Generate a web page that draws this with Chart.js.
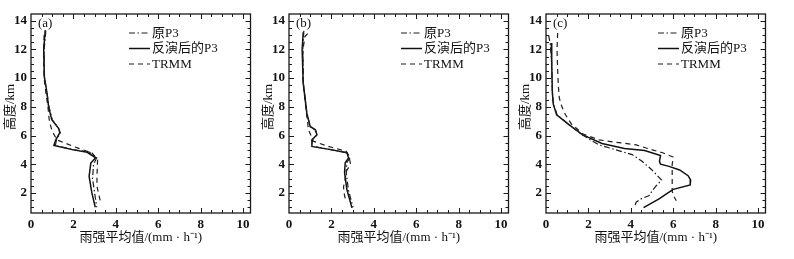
<!DOCTYPE html>
<html>
<head>
<meta charset="utf-8">
<script src="https://cdn.jsdelivr.net/npm/chart.js@4/dist/chart.umd.min.js"></script>
<style>
    body { margin: 0; background: #fff; width: 794px; height: 259px; position: relative; overflow: hidden; }
    .panel { position: absolute; top: 0; width: 261px; height: 259px; }
</style>
</head>
<body>
<div class="panel" style="left:0px"><canvas id="chart-a"></canvas></div>
<div class="panel" style="left:258px"><canvas id="chart-b"></canvas></div>
<div class="panel" style="left:515px"><canvas id="chart-c"></canvas></div>
<script>
const seriesNames = ["原P3", "反演后的P3", "TRMM"];

// (a)
const origA_height = [13.3, 12, 10, 9, 8, 7.1, 6.5, 6.2, 5.7, 5.3, 5.02, 4.85, 4.45, 4.0, 3.0, 2.0, 1.0];
const origA_rate   = [0.7, 0.62, 0.63, 0.75, 0.85, 1.0, 1.3, 1.38, 1.2, 1.15, 2.0, 2.75, 3.1, 2.95, 2.9, 3.0, 3.1];
const retrA_height = [13.35, 12, 10.1, 9, 8, 7.1, 6.5, 6.2, 5.7, 5.3, 5.0, 4.83, 4.45, 4.08, 3.15, 2.0, 1.0];
const retrA_rate   = [0.67, 0.6, 0.63, 0.75, 0.83, 0.98, 1.3, 1.36, 1.17, 1.08, 2.0, 2.65, 3.05, 2.82, 2.74, 2.87, 3.03];
const trmmA_height = [13.0, 12, 10, 9, 8, 7.2, 6.8, 6.3, 5.7, 5.24, 4.78, 4.31, 3.15, 2.46, 1.41];
const trmmA_rate   = [0.62, 0.6, 0.62, 0.7, 0.8, 0.85, 0.9, 1.0, 1.22, 2.0, 2.88, 3.14, 3.11, 3.11, 3.27];

// (b)
const origB_height = [13.3, 12, 9.6, 7.5, 6.6, 6.4, 6.05, 5.7, 5.25, 5.0, 4.78, 4.4, 4.1, 3.4, 2.2, 1.0];
const origB_rate   = [0.7, 0.65, 0.68, 0.85, 1.0, 1.25, 1.32, 1.1, 1.1, 2.05, 2.78, 2.86, 2.72, 2.7, 2.8, 3.02];
const retrB_height = [13.2, 12, 9.65, 7.56, 6.63, 6.4, 6.05, 5.7, 5.24, 5.0, 4.8, 4.43, 4.1, 3.4, 2.23, 0.96];
const retrB_rate   = [0.67, 0.62, 0.67, 0.84, 1.0, 1.24, 1.32, 1.08, 1.08, 2.02, 2.73, 2.81, 2.65, 2.62, 2.73, 2.97];
const trmmB_height = [13.1, 12.9, 12, 10, 8.5, 7.2, 6.4, 5.6, 5.24, 4.9, 4.5, 4.0, 3.5, 3.0, 2.4, 1.8, 1.5];
const trmmB_rate   = [0.88, 0.75, 0.66, 0.65, 0.75, 0.85, 0.92, 1.15, 1.86, 2.7, 2.84, 2.9, 2.7, 2.65, 2.57, 2.62, 2.68];

// (c)
const origC_height = [13.0, 12.4, 11, 9, 8.2, 7.45, 6.76, 6.06, 5.6, 5.35, 5.0, 4.67, 4.2, 3.6, 2.9, 2.5, 2.23, 1.8, 1.6, 1.35, 1.0];
const origC_rate   = [0.12, 0.2, 0.27, 0.3, 0.36, 0.52, 1.08, 1.7, 2.2, 2.5, 3.3, 4.06, 4.53, 5.0, 5.45, 5.2, 5.05, 4.85, 4.5, 4.25, 4.17];
const retrC_height = [12.45, 11, 9, 8.2, 7.45, 6.76, 6.06, 5.45, 5.1, 4.95, 4.6, 4.2, 4.0, 3.85, 3.6, 3.2, 2.9, 2.55, 2.25, 2.0, 1.6, 0.97];
const retrC_rate   = [0.25, 0.27, 0.3, 0.34, 0.5, 1.08, 1.71, 2.64, 3.7, 4.65, 5.4, 5.35, 5.4, 5.8, 6.3, 6.7, 6.82, 6.8, 6.0, 5.75, 5.35, 4.6];
const trmmC_height = [13.15, 12, 11, 9.5, 8.6, 8.0, 7.45, 6.8, 6.1, 5.7, 5.55, 5.35, 5.05, 4.8, 4.5, 4.0, 3.0, 2.1, 1.7, 1.45];
const trmmC_rate   = [0.55, 0.52, 0.54, 0.58, 0.63, 0.75, 0.92, 1.2, 1.75, 2.5, 3.2, 4.25, 4.9, 5.5, 6.0, 5.95, 5.95, 5.95, 6.05, 6.15];

const xMin = 0, xMax = 10.35, yMin = 0.6, yMax = 14.47;

Chart.defaults.font.family = "'Liberation Serif', 'Noto Sans CJK SC', serif";
Chart.defaults.color = "#111";

const toPoints = (heights, rates) => heights.map((h, i) => ({x: rates[i], y: h}));

// box round the plot with small inward ticks on every side
const frameTicks = {
    id: "frameTicks",
    afterDraw(chart) {
        const {ctx, chartArea: a, scales: {x, y}} = chart;
        ctx.save();
        ctx.strokeStyle = "#1a1a1a";
        ctx.lineWidth = 1.3;
        ctx.strokeRect(a.left, a.top, a.right - a.left, a.bottom - a.top);
        ctx.lineWidth = 1;
        ctx.beginPath();
        for (let v = 0.5; v < x.max; v += 0.5) {
            const px = Math.round(x.getPixelForValue(v)) + 0.5;
            const len = v % 2 === 0 ? 5 : 3;
            ctx.moveTo(px, a.bottom); ctx.lineTo(px, a.bottom - len);
            ctx.moveTo(px, a.top); ctx.lineTo(px, a.top + len);
        }
        for (let v = 1; v < y.max; v += 0.5) {
            const py = Math.round(y.getPixelForValue(v)) + 0.5;
            const len = v % 2 === 0 ? 5 : 3;
            ctx.moveTo(a.left, py); ctx.lineTo(a.left + len, py);
            ctx.moveTo(a.right, py); ctx.lineTo(a.right - len, py);
        }
        ctx.stroke();
        ctx.restore();
    }
};

// legend and panel letter drawn inside the plot
const insideLegend = {
    id: "insideLegend",
    afterDraw(chart, args, opts) {
        const {ctx, chartArea: a} = chart;
        ctx.save();
        ctx.fillStyle = "#111";
        ctx.textBaseline = "middle";
        ctx.font = "13px 'Liberation Serif', 'Noto Sans CJK SC', serif";
        ctx.fillText(opts.tag, a.left + 7, a.top + 10);
        chart.data.datasets.forEach((ds, i) => {
            const yy = a.top + opts.top + i * opts.step;
            const x0 = a.left + opts.left;
            ctx.beginPath();
            ctx.strokeStyle = ds.borderColor;
            ctx.lineWidth = ds.borderWidth;
            ctx.setLineDash(ds.borderDash || []);
            ctx.moveTo(x0, yy);
            ctx.lineTo(x0 + 21, yy);
            ctx.stroke();
            ctx.setLineDash([]);
            ctx.fillText(ds.label, x0 + 23, yy + 0.5);
        });
        ctx.restore();
    }
};

function makePanel(id, tag, legendLeft, orig, retr, trmm) {
    new Chart(document.getElementById(id), {
        type: "scatter",
        data: {
            datasets: [{
                label: seriesNames[0],
                data: orig,
                borderColor: "#1e1e1e",
                borderWidth: 1.2,
                borderDash: [6, 2.5, 1.5, 2.5]
            }, {
                label: seriesNames[1],
                data: retr,
                borderColor: "#111",
                borderWidth: 1.5
            }, {
                label: seriesNames[2],
                data: trmm,
                borderColor: "#1e1e1e",
                borderWidth: 1.2,
                borderDash: [5, 4]
            }]
        },
        options: {
            responsive: true,
            maintainAspectRatio: false,
            animation: false,
            showLine: true,
            elements: {point: {radius: 0}, line: {tension: 0, fill: false}},
            layout: {padding: {left: 0, top: 14, right: 10.5, bottom: 0}},
            plugins: {
                legend: {display: false},
                tooltip: {enabled: false},
                insideLegend: {tag: tag, left: legendLeft, top: 19, step: 15.5}
            },
            scales: {
                x: {
                    type: "linear",
                    min: xMin,
                    max: xMax,
                    grid: {display: false, drawTicks: false},
                    border: {display: false},
                    ticks: {stepSize: 2, includeBounds: false, padding: 4, maxRotation: 0,
                        font: {size: 13, weight: "bold"}, callback: v => v},
                    title: {display: true, text: "雨强平均值/(mm · h⁻¹)", font: {size: 13},
                        padding: {top: 0, bottom: 14}},
                    afterFit: scale => { scale.height = 46; }
                },
                y: {
                    type: "linear",
                    min: yMin,
                    max: yMax,
                    grid: {display: false, drawTicks: false},
                    border: {display: false},
                    ticks: {stepSize: 2, includeBounds: false, padding: 4,
                        font: {size: 13, weight: "bold"}, callback: v => v},
                    title: {display: true, text: "\u2002\u2002高度/km", font: {size: 13},
                        padding: {top: 3, bottom: 0}},
                    afterFit: scale => { scale.width = 31; }
                }
            }
        },
        plugins: [frameTicks, insideLegend]
    });
}

makePanel("chart-a", "(a)", 98, toPoints(origA_height, origA_rate), toPoints(retrA_height, retrA_rate), toPoints(trmmA_height, trmmA_rate));
makePanel("chart-b", "(b)", 112, toPoints(origB_height, origB_rate), toPoints(retrB_height, retrB_rate), toPoints(trmmB_height, trmmB_rate));
makePanel("chart-c", "(c)", 112, toPoints(origC_height, origC_rate), toPoints(retrC_height, retrC_rate), toPoints(trmmC_height, trmmC_rate));
</script>
</body>
</html>
